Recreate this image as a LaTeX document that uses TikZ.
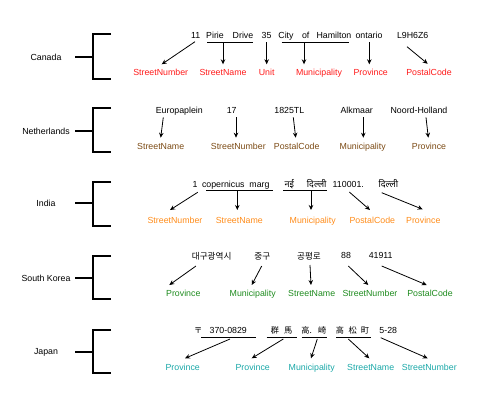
\documentclass[tikz,border=0pt]{standalone}
\usepackage{fontspec}
\setmainfont{Liberation Sans}
\newfontfamily\devfont[Script=Devanagari]{Noto Sans}
\newfontfamily\krfont{Noto Sans CJK KR}
\newfontfamily\jpfont{Noto Sans CJK JP}
\usetikzlibrary{arrows.meta}
\definecolor{cred}{HTML}{FF1A1A}
\definecolor{cbrown}{HTML}{7B4A14}
\definecolor{corange}{HTML}{FF8C1A}
\definecolor{cgreen}{HTML}{1E8B1E}
\definecolor{cteal}{HTML}{1AA8A8}
\begin{document}
\begin{tikzpicture}[x=1pt,y=-1pt,
  every node/.style={inner sep=0pt, font=\fontsize{8.8}{10}\selectfont},
  tok/.style={anchor=base},
  lab/.style={anchor=base},
  country/.style={anchor=center},
  kr/.style={anchor=base, font=\fontsize{8.6}{10}\krfont},
  jp/.style={anchor=base, font=\fontsize{8.2}{9}\jpfont},
  dv/.style={anchor=base, font=\fontsize{9}{10}\devfont},
  arr/.style={-{Stealth[length=5pt,width=4.5pt]}, line width=0.8pt},
  ul/.style={line width=0.8pt},
  brk/.style={line width=1.5pt}]
\useasboundingbox (0,0) rectangle (490,408);

% ---------- brackets and countries ----------
\foreach \t/\b/\m/\n/\name in {34/79/57/c1/Canada,108/152/131/c2/Netherlands,182/226/203/c3/India,256/299/278/c4/South Korea,330/373/352/c5/Japan}{
  \node[country] (\n) at (46,\m) {\name};
  \coordinate (\n t) at (111,\t);
  \coordinate (\n b) at (111,\b);
  \coordinate (\n m) at (93,\m);
  \coordinate (\n s) at (75,\m);
  \draw[brk] (\n t) -- (\n t -| \n m) -- (\n b -| \n m) -- (\n b);
  \draw[brk] (\n s) -- (\n m);
}

% ---------- Canada ----------
\node[tok] (ca1) at (195.7,38.7) {11};
\node[tok] (ca2) at (215,38.7) {Pirie};
\node[tok] (ca3) at (243,38.7) {Drive};
\node[tok] (ca4) at (266.5,38.7) {35};
\node[tok] (ca5) at (286,38.7) {City};
\node[tok] (ca6) at (305.7,38.7) {of};
\node[tok] (ca7) at (334,38.7) {Hamilton};
\node[tok] (ca8) at (369,38.7) {ontario};
\node[tok] (ca9) at (412.7,38.7) {L9H6Z6};
\begin{scope}[every node/.append style={text=cred}]
\node[lab] (cl1) at (160.7,75.9) {StreetNumber};
\node[lab] (cl2) at (223,75.9) {StreetName};
\node[lab] (cl3) at (266.7,75.9) {Unit};
\node[lab] (cl4) at (319,75.9) {Municipality};
\node[lab] (cl5) at (370.7,75.9) {Province};
\node[lab] (cl6) at (429,75.9) {PostalCode};
\end{scope}
\coordinate (cu1a) at (207,42.3); \coordinate (cu1b) at (252.7,42.3);
\coordinate (cu2a) at (281.7,42.3); \coordinate (cu2b) at (349,42.3);
\draw[ul] (cu1a) -- (cu1b);
\draw[ul] (cu2a) -- (cu2b);
\coordinate (ca1s) at (195,41.7);   \coordinate (cl1e) at (161.7,64.3);
\coordinate (ca2s) at (223,42.3);   \coordinate (cl2e) at (223,64.3);
\coordinate (ca4s) at (266.7,42);   \coordinate (cl3e) at (266.7,64.3);
\coordinate (ca7s) at (304,42.3);   \coordinate (cl4e) at (304,64.3);
\coordinate (ca8s) at (369.3,42);   \coordinate (cl5e) at (369.3,64.3);
\coordinate (ca9s) at (407,46.7);   \coordinate (cl6e) at (427.7,63.8);
\draw[arr] (ca1s) -- (cl1e);
\draw[arr] (ca2s) -- (cl2e);
\draw[arr] (ca4s) -- (cl3e);
\draw[arr] (ca7s) -- (cl4e);
\draw[arr] (ca8s) -- (cl5e);
\draw[arr] (ca9s) -- (cl6e);

% ---------- Netherlands ----------
\node[tok] (nt1) at (179.3,113.2) {Europaplein};
\node[tok] (nt2) at (231.7,113.2) {17};
\node[tok] (nt3) at (289.3,113.2) {1825TL};
\node[tok] (nt4) at (356.7,113.2) {Alkmaar};
\node[tok] (nt5) at (419,113.2) {Noord-Holland};
\begin{scope}[every node/.append style={text=cbrown}]
\node[lab] (nl1) at (160.7,149.9) {StreetName};
\node[lab] (nl2) at (238.3,149.9) {StreetNumber};
\node[lab] (nl3) at (296.7,149.9) {PostalCode};
\node[lab] (nl4) at (362.7,149.9) {Municipality};
\node[lab] (nl5) at (429,149.9) {Province};
\end{scope}
\coordinate (nt1s) at (163.3,117.3); \coordinate (nl1e) at (160.7,137.7);
\coordinate (nt2s) at (236,117.3);   \coordinate (nl2e) at (236,137.7);
\coordinate (nt3s) at (293.3,117.3); \coordinate (nl3e) at (295.7,137.7);
\coordinate (nt4s) at (363.3,117.3); \coordinate (nl4e) at (363.3,137.7);
\coordinate (nt5s) at (426,117.3);   \coordinate (nl5e) at (428.3,137.7);
\draw[arr] (nt1s) -- (nl1e);
\draw[arr] (nt2s) -- (nl2e);
\draw[arr] (nt3s) -- (nl3e);
\draw[arr] (nt4s) -- (nl4e);
\draw[arr] (nt5s) -- (nl5e);

% ---------- India ----------
\node[tok] (it1) at (195,187.2) {1};
\node[tok] (it2) at (223.3,187.2) {copernicus};
\node[tok] (it3) at (259.5,187.2) {marg};
\node[dv] (it4) at (289.3,187.2) {नई};
\node[dv] (it5) at (316.7,187.2) {दिल्ली};
\node[tok] (it6) at (348.3,187.2) {110001.};
\node[dv] (it7) at (388.3,187.2) {दिल्ली};
\begin{scope}[every node/.append style={text=corange}]
\node[lab] (il1) at (175,223.2) {StreetNumber};
\node[lab] (il2) at (239.3,223.2) {StreetName};
\node[lab] (il3) at (312.7,223.2) {Municipality};
\node[lab] (il4) at (372.3,223.2) {PostalCode};
\node[lab] (il5) at (423.3,223.2) {Province};
\end{scope}
\coordinate (iu1a) at (206,190); \coordinate (iu1b) at (272.7,190);
\coordinate (iu2a) at (283.3,190); \coordinate (iu2b) at (326.7,190);
\draw[ul] (iu1a) -- (iu1b);
\draw[ul] (iu2a) -- (iu2b);
\coordinate (it1s) at (197.7,192.3); \coordinate (il1e) at (170,210);
\coordinate (it3s) at (237.3,190);   \coordinate (il2e) at (237.3,210);
\coordinate (it5s) at (311,190);     \coordinate (il3e) at (311,210);
\coordinate (it6s) at (349.3,192);   \coordinate (il4e) at (370,210);
\coordinate (it7s) at (381.7,192.7); \coordinate (il5e) at (422.7,209.3);
\draw[arr] (it1s) -- (il1e);
\draw[arr] (it3s) -- (il2e);
\draw[arr] (it5s) -- (il3e);
\draw[arr] (it6s) -- (il4e);
\draw[arr] (it7s) -- (il5e);

% ---------- South Korea ----------
\node[kr] (kt1) at (211.7,259.1) {대구광역시};
\node[kr] (kt2) at (262.3,259.1) {중구};
\node[kr] (kt3) at (309,259.1) {공평로};
\node[tok] (kt4) at (346,258.9) {88};
\node[tok] (kt5) at (380.7,258.9) {41911};
\begin{scope}[every node/.append style={text=cgreen}]
\node[lab] (kl1) at (183.3,296.5) {Province};
\node[lab] (kl2) at (252.7,296.5) {Municipality};
\node[lab] (kl3) at (311.7,296.5) {StreetName};
\node[lab] (kl4) at (370,296.5) {StreetNumber};
\node[lab] (kl5) at (430,296.5) {PostalCode};
\end{scope}
\coordinate (kt1s) at (196,266);   \coordinate (kl1e) at (169.3,285);
\coordinate (kt2s) at (261.7,266); \coordinate (kl2e) at (251.7,285);
\coordinate (kt3s) at (310,265);   \coordinate (kl3e) at (311,285);
\coordinate (kt4s) at (348.3,266); \coordinate (kl4e) at (368.3,285);
\coordinate (kt5s) at (381.7,266); \coordinate (kl5e) at (426.7,285);
\draw[arr] (kt1s) -- (kl1e);
\draw[arr] (kt2s) -- (kl2e);
\draw[arr] (kt3s) -- (kl3e);
\draw[arr] (kt4s) -- (kl4e);
\draw[arr] (kt5s) -- (kl5e);

% ---------- Japan ----------
\node[jp] (jt1) at (198.3,333.2) {〒};
\node[tok] (jt2) at (228.3,333.2) {370-0829};
\node[jp] (jt3) at (275,333.2) {群};
\node[jp] (jt4) at (288.3,333.2) {馬};
\node[jp] (jt5) at (306.7,333.2) {高.};
\node[jp] (jt6) at (322.3,333.2) {崎};
\node[jp] (jt7) at (340,333.2) {高};
\node[jp] (jt8) at (352.7,333.2) {松};
\node[jp] (jt9) at (365,333.2) {町};
\node[tok] (jt10) at (388.3,333.2) {5-28};
\begin{scope}[every node/.append style={text=cteal}]
\node[lab] (jl1) at (182.7,370.9) {Province};
\node[lab] (jl2) at (252.7,370.9) {Province};
\node[lab] (jl3) at (311.7,370.9) {Municipality};
\node[lab] (jl4) at (370.7,370.9) {StreetName};
\node[lab] (jl5) at (429.3,370.9) {StreetNumber};
\end{scope}
\coordinate (ju1a) at (201,337.3); \coordinate (ju1b) at (256,337.3);
\coordinate (ju2a) at (266.7,337.3); \coordinate (ju2b) at (296.7,337.3);
\coordinate (ju3a) at (301.7,337.3); \coordinate (ju3b) at (326.7,337.3);
\coordinate (ju4a) at (336,337.3); \coordinate (ju4b) at (370.7,337.3);
\draw[ul] (ju1a) -- (ju1b);
\draw[ul] (ju2a) -- (ju2b);
\draw[ul] (ju3a) -- (ju3b);
\draw[ul] (ju4a) -- (ju4b);
\coordinate (jt2s) at (230,339);     \coordinate (jl1e) at (185,358.3);
\coordinate (jt4s) at (283.3,339);   \coordinate (jl2e) at (251.7,358.3);
\coordinate (jt6s) at (317.3,339);   \coordinate (jl3e) at (311,358.3);
\coordinate (jt8s) at (348.3,339);   \coordinate (jl4e) at (369.3,358.3);
\coordinate (jt10s) at (380.7,337.7); \coordinate (jl5e) at (427.7,358.3);
\draw[arr] (jt2s) -- (jl1e);
\draw[arr] (jt4s) -- (jl2e);
\draw[arr] (jt6s) -- (jl3e);
\draw[arr] (jt8s) -- (jl4e);
\draw[arr] (jt10s) -- (jl5e);
\end{tikzpicture}
\end{document}
